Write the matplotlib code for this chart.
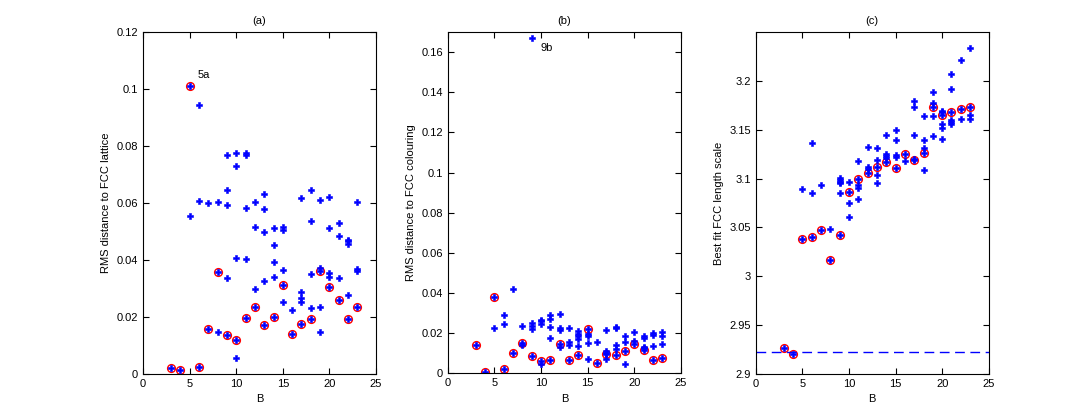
import matplotlib
matplotlib.use('Agg')
import matplotlib.pyplot as plt
import numpy as np

plt.rcParams['font.family'] = ['Liberation Sans', 'DejaVu Sans']
plt.rcParams['font.size'] = 8

# cluster sizes with a red-circled (lowest energy) structure
B_best = list(range(3, 24))

# (a) RMS distance to FCC lattice
a_best = [0.0020, 0.0013, 0.1010, 0.0025, 0.0157, 0.0358, 0.0137, 0.0118, 0.0195, 0.0235, 0.0171,
          0.0199, 0.0311, 0.0139, 0.0174, 0.0192, 0.0360, 0.0304, 0.0260, 0.0192, 0.0235]
a_other = {
    5: [0.0553], 6: [0.0943, 0.0607], 7: [0.0599], 8: [0.0603, 0.0146],
    9: [0.0767, 0.0644, 0.0592, 0.0336], 10: [0.0774, 0.0729, 0.0406, 0.0055],
    11: [0.0774, 0.0770, 0.0581, 0.0402], 12: [0.0602, 0.0515, 0.0297],
    13: [0.0630, 0.0578, 0.0497, 0.0325], 14: [0.0511, 0.0452, 0.0392, 0.0339],
    15: [0.0515, 0.0505, 0.0364, 0.0252], 16: [0.0225],
    17: [0.0616, 0.0287, 0.0266, 0.0252], 18: [0.0644, 0.0536, 0.0350, 0.0231],
    19: [0.0609, 0.0371, 0.0234, 0.0146], 20: [0.0620, 0.0511, 0.0354, 0.0339],
    21: [0.0531, 0.0483, 0.0336], 22: [0.0471, 0.0467, 0.0455, 0.0276],
    23: [0.0602, 0.0367, 0.0360],
}

# (b) RMS distance to FCC colouring
b_best = [0.0140, 0.0007, 0.0380, 0.0020, 0.0100, 0.0150, 0.0085, 0.0060, 0.0065, 0.0147, 0.0065,
          0.0090, 0.0223, 0.0050, 0.0095, 0.0090, 0.0113, 0.0147, 0.0115, 0.0065, 0.0075]
b_other = {
    5: [0.0227], 6: [0.0290, 0.0245], 7: [0.0420], 8: [0.0235, 0.0140],
    9: [0.1670, 0.0250, 0.0235, 0.0220], 10: [0.0267, 0.0258, 0.0247, 0.0045],
    11: [0.0292, 0.0272, 0.0230, 0.0177], 12: [0.0297, 0.0227, 0.0217, 0.0133],
    13: [0.0227, 0.0155, 0.0140], 14: [0.0212, 0.0198, 0.0188, 0.0170, 0.0135],
    15: [0.0198, 0.0188, 0.0150, 0.0070], 16: [0.0155],
    17: [0.0215, 0.0113, 0.0102, 0.0070], 18: [0.0233, 0.0225, 0.0140, 0.0123],
    19: [0.0185, 0.0155, 0.0045], 20: [0.0205, 0.0163],
    21: [0.0185, 0.0175, 0.0133, 0.0125], 22: [0.0200, 0.0192, 0.0135],
    23: [0.0205, 0.0185, 0.0145],
}

# (c) best fit FCC length scale
c_best = [2.9265, 2.9207, 3.0384, 3.0398, 3.0469, 3.0163, 3.0418, 3.0867, 3.1000, 3.1061, 3.1122,
          3.1173, 3.1112, 3.1255, 3.1194, 3.1265, 3.1735, 3.1653, 3.1684, 3.1714, 3.1735]
c_other = {
    5: [3.0898], 6: [3.1367, 3.0857], 7: [3.0939], 8: [3.0483],
    9: [3.1010, 3.0990, 3.0970, 3.0950, 3.0857], 10: [3.0970, 3.0745, 3.0610],
    11: [3.1184, 3.0939, 3.0908, 3.0789], 12: [3.1327, 3.1122, 3.1102],
    13: [3.1316, 3.1194, 3.1041, 3.0959], 14: [3.1449, 3.1255, 3.1235, 3.1214],
    15: [3.1500, 3.1398, 3.1245, 3.1224], 16: [3.1184],
    17: [3.1793, 3.1735, 3.1449, 3.1204], 18: [3.1643, 3.1398, 3.1316, 3.1092],
    19: [3.1888, 3.1776, 3.1643, 3.1439], 20: [3.1694, 3.1684, 3.1561, 3.1520, 3.1408],
    21: [3.2071, 3.1918, 3.1602, 3.1582, 3.1561], 22: [3.2214, 3.1612],
    23: [3.2337, 3.1653, 3.1612],
}
c_bulk = 2.9224


def flatten(other):
    xs, ys = [], []
    for b, vals in other.items():
        xs += [b] * len(vals)
        ys += vals
    return xs, ys


def draw(ax, best, other, title, ylabel):
    xs, ys = flatten(other)
    ax.plot(B_best, best, 'o', ms=5.6, mfc='none', mec='red', mew=1.0)
    ax.plot(xs + B_best, ys + best, 'P', ms=4.0, color='blue', mec='blue', mew=0.4)
    ax.set_xlim(0, 25)
    ax.set_xticks(range(0, 26, 5))
    ax.set_title(title, fontsize=8)
    ax.set_xlabel('B', fontsize=8)
    ax.set_ylabel(ylabel, fontsize=8)
    ax.tick_params(direction='in', top=True, right=True, length=4, labelsize=8)
    for s in ax.spines.values():
        s.set_linewidth(0.8)


def fmt(v):
    return ('%.2f' % v).rstrip('0').rstrip('.')


fig = plt.figure(figsize=(10.91, 4.2), dpi=100)
ax1 = fig.add_axes([0.1311, 0.1095, 0.2136, 0.8143])
ax2 = fig.add_axes([0.4103, 0.1112, 0.2139, 0.8126])
ax3 = fig.add_axes([0.6927, 0.1095, 0.2136, 0.8143])

draw(ax1, a_best, a_other, '(a)', 'RMS distance to FCC lattice')
ax1.set_ylim(0, 0.12)
yt = np.arange(0, 0.121, 0.02)
ax1.set_yticks(yt)
ax1.set_yticklabels([fmt(v) for v in yt])
ax1.text(5.8, 0.105, '5a', fontsize=8, va='center')

draw(ax2, b_best, b_other, '(b)', 'RMS distance to FCC colouring')
ax2.set_ylim(0, 0.17)
yt = np.arange(0, 0.161, 0.02)
ax2.set_yticks(yt)
ax2.set_yticklabels([fmt(v) for v in yt])
ax2.text(10.0, 0.162, '9b', fontsize=8, va='center')

draw(ax3, c_best, c_other, '(c)', 'Best fit FCC length scale')
ax3.axhline(c_bulk, color='blue', ls=(0, (7, 4)), lw=1.0)
ax3.set_ylim(2.9, 3.25)
yt = [2.9, 2.95, 3.0, 3.05, 3.1, 3.15, 3.2]
ax3.set_yticks(yt)
ax3.set_yticklabels([fmt(v) for v in yt])

fig.savefig('out.png', dpi=100)
